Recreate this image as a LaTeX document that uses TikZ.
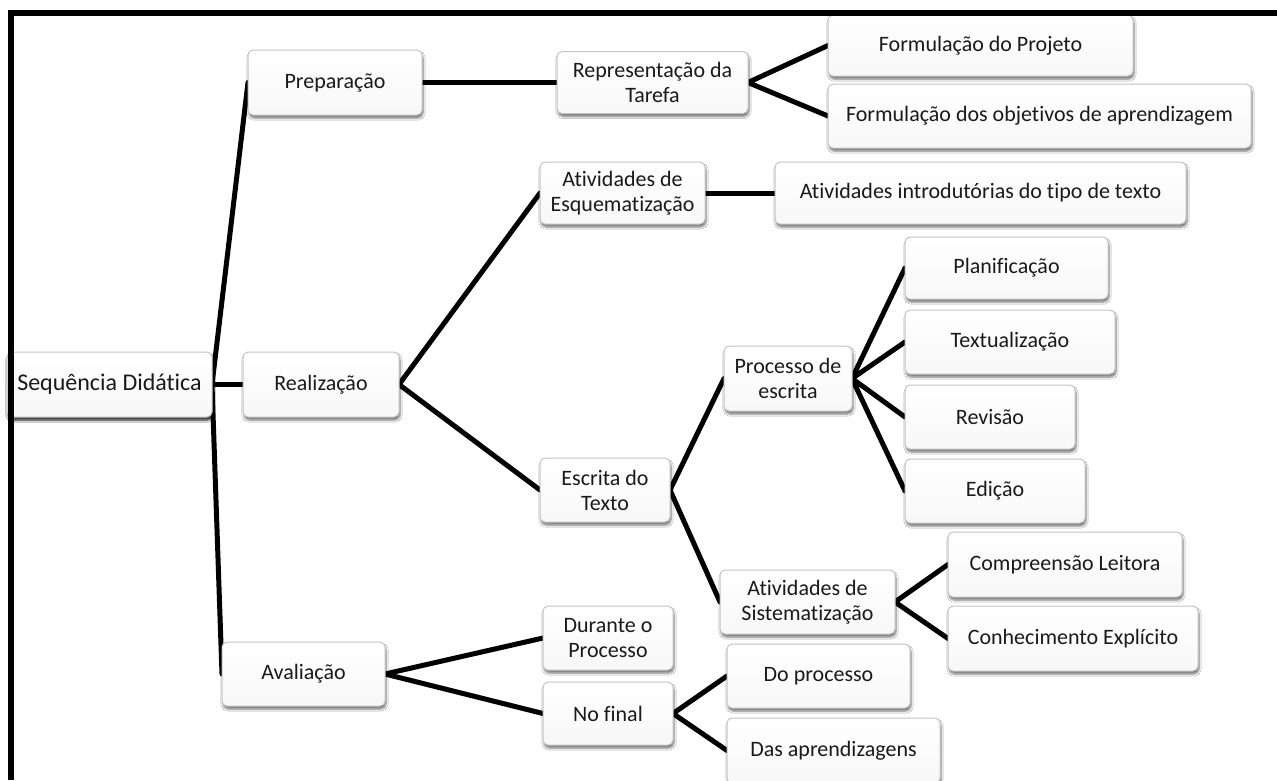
\documentclass[tikz,border=0pt]{standalone}
\usepackage{fontspec}
\setmainfont{Carlito}[Ligatures=NoCommon]
\usetikzlibrary{shadows.blur}
\definecolor{boxedge}{RGB}{196,196,196}
\definecolor{boxtext}{RGB}{26,26,26}
\tikzset{
  x=1pt, y=-1pt,
  box/.style={draw=boxedge, line width=1pt, top color=white, bottom color=black!3,
    rounded corners=5pt, text=boxtext,
    align=center, inner sep=2pt, font=\fontsize{22}{25}\selectfont,
    blur shadow={shadow xshift=1pt, shadow yshift=-3pt,
      shadow blur radius=2.2pt, shadow blur steps=6, shadow opacity=55}},
  rootbox/.style={box, font=\fontsize{24}{28}\selectfont},
  link/.style={line width=5pt, black, line cap=round},
  frameline/.style={line width=6pt, black, line join=miter},
}
% box at centre (x,y) with width w and height h
\newcommand\bx[7][]{\node[box, #1, minimum width=#5pt, minimum height=#6pt] (#2) at (#3,#4) {#7};}
\begin{document}
\begin{tikzpicture}
\useasboundingbox (0,0) rectangle (1277,780);
\fill[white] (0,0) rectangle (1277,780);

% connectors (drawn first, boxes sit on their ends)
\coordinate (rootE) at (212,384.5);
\coordinate (prepW) at (248,82.5);
\coordinate (realW) at (243,384.5);
\coordinate (avalW) at (222,674);
\draw[link] (prepW) -- (rootE) -- (avalW);
\draw[link] (rootE) -- (realW);
\draw[link] (422,82.5) -- (557,82.5);
\draw[link] (828,45.5) -- (748,82.5) -- (828,116);
\draw[link] (540,193) -- (399,384.5) -- (540,490);
\draw[link] (705,193) -- (775,193);
\draw[link] (724,378.5) -- (670,490) -- (720,602);
\draw[link] (905,268) -- (852,378.5) -- (905,342);
\draw[link] (905,417) -- (852,378.5) -- (905,491);
\draw[link] (948,564.5) -- (895,602) -- (948,638.5);
\draw[link] (543,638) -- (385,674) -- (543,713.5);
\draw[link] (727,676) -- (673,713.5) -- (727,750.5);

% boxes
\bx[rootbox]{root}{109.5}{384.5}{205}{65}{Sequência Didática}
\bx{prep}{335}{82.5}{174}{65}{Preparação}
\bx{real}{321}{384.5}{156}{65}{Realização}
\bx{aval}{303.5}{674}{163}{64}{Avaliação}
\bx{rep}{652.5}{82.5}{191}{62}{Representação da\\Tarefa}
\bx{fp}{980.5}{45.5}{305}{61}{Formulação do Projeto}
\bx{fo}{1039.5}{116}{423}{64}{Formulação dos objetivos de aprendizagem}
\bx{esq}{622.5}{193}{165}{62}{Atividades de\\Esquematização}
\bx{intro}{980.5}{193}{411}{62}{Atividades introdutórias do tipo de texto}
\bx{esc}{605}{490}{130}{64}{Escrita do\\Texto}
\bx{proc}{788}{378.5}{128}{65}{Processo de\\escrita}
\bx{plan}{1006.5}{268}{203}{62}{Planificação}
\bx{textu}{1010}{342}{210}{64}{Textualização}
\bx{rev}{990}{417}{170}{64}{Revisão}
\bx{edi}{995}{491}{180}{64}{Edição}
\bx{sist}{807.5}{602}{175}{64}{Atividades de\\Sistematização}
\bx{comp}{1065}{564.5}{234}{65}{Compreensão Leitora}
\bx{conh}{1073}{638.5}{250}{65}{Conhecimento Explícito}
\bx{dur}{608}{638}{130}{64}{Durante o\\Processo}
\bx{nof}{608}{713.5}{130}{63}{No final}
\bx{dop}{818.5}{676}{183}{64}{Do processo}
\bx{das}{833.5}{750.5}{213}{65}{Das aprendizagens}

% page frame on top and left
\draw[frameline] (11,780) -- (11,13) -- (1277,13);
\end{tikzpicture}
\end{document}
